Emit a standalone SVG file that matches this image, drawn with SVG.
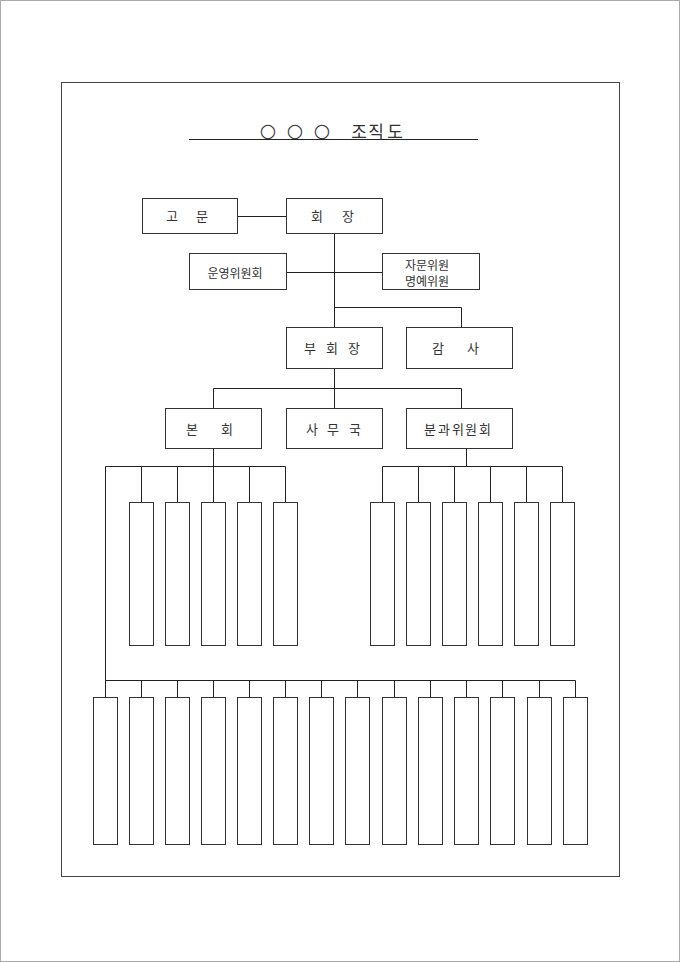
<svg xmlns="http://www.w3.org/2000/svg" width="680" height="962" viewBox="0 0 680 962">
<style>
.frame{fill:none;stroke:#444;stroke-width:1}
.box{fill:#fff;stroke:#333;stroke-width:1}
.cn{fill:none;stroke:#222;stroke-width:1}
.lbl{font-family:"Noto Sans CJK KR","Noto Sans",sans-serif;font-size:13px;fill:#333;text-anchor:middle;dominant-baseline:central}
.ttl{font-family:"Noto Sans CJK KR","Noto Sans",sans-serif;font-size:17px;fill:#333;text-anchor:middle;dominant-baseline:central}
.circ{font-family:"DejaVu Sans",sans-serif;font-size:19px}
</style>
<rect x="0" y="0" width="680" height="962" fill="#fff"/>
<rect x="0.5" y="0.5" width="679" height="961" fill="none" stroke="#aaa"/>
<rect class="frame" x="61.5" y="82.5" width="558" height="794"/>
<g id="title">
<text class="ttl" y="130"><tspan class="circ" x="268">○</tspan><tspan class="circ" x="295">○</tspan><tspan class="circ" x="322">○</tspan><tspan x="359">조</tspan><tspan x="376">직</tspan><tspan x="395">도</tspan></text>
<line class="cn" x1="189" y1="139.5" x2="478" y2="139.5"/>
</g>
<g id="connectors">
<path class="cn" d="M237,216.5H286"/>
<path class="cn" d="M334.5,233V327"/>
<path class="cn" d="M286,272.5H382"/>
<path class="cn" d="M334.5,307.5H461.5V327"/>
<path class="cn" d="M334.5,368V408"/>
<path class="cn" d="M213.5,388.5H461.5V408M213.5,388.5V408"/>
<path class="cn" d="M213.5,448V466.5"/>
<path class="cn" d="M105.5,466.5H285.5M141.5,466.5V502M177.5,466.5V502M213.5,466.5V502M249.5,466.5V502M285.5,466.5V502"/>
<path class="cn" d="M466.5,448V466.5"/>
<path class="cn" d="M382.5,466.5H562.5M382.5,466.5V502M418.5,466.5V502M454.5,466.5V502M490.5,466.5V502M526.5,466.5V502M562.5,466.5V502"/>
<path class="cn" d="M105.5,466.5V697"/>
<path class="cn" d="M105.5,680.5H575.5M141.5,680.5V697M177.5,680.5V697M213.5,680.5V697M249.5,680.5V697M285.5,680.5V697M321.5,680.5V697M357.5,680.5V697M394.5,680.5V697M430.5,680.5V697M466.5,680.5V697M502.5,680.5V697M539.5,680.5V697M575.5,680.5V697"/>
</g>
<g id="n-gomun"><rect class="box" x="142.5" y="198.5" width="95" height="35"/><text class="lbl" x="172 187 202" y="215.5">고 문</text></g>
<g id="n-hoejang"><rect class="box" x="286.5" y="198.5" width="96" height="35"/><text class="lbl" x="317 332 348" y="215.5">회 장</text></g>
<g id="n-unyeong"><rect class="box" x="189.5" y="253.5" width="97" height="36"/><text class="lbl" x="235" y="272" style="font-size:12px">운영위원회</text></g>
<g id="n-jamun"><rect class="box" x="382.5" y="253.5" width="97" height="36"/><text class="lbl" x="427" y="264" style="font-size:12px">자문위원</text><text class="lbl" x="427" y="280" style="font-size:12px">명예위원</text></g>
<g id="n-buhoejang"><rect class="box" x="286.5" y="327.5" width="96" height="41"/><text class="lbl" x="310 321 332 343 354" y="347">부 회 장</text></g>
<g id="n-gamsa"><rect class="box" x="406.5" y="327.5" width="106" height="41"/><text class="lbl" x="438 455 473" y="347">감 사</text></g>
<g id="n-bonhoe"><rect class="box" x="165.5" y="408.5" width="96" height="40"/><text class="lbl" x="192 210 227" y="428">본 회</text></g>
<g id="n-samuguk"><rect class="box" x="286.5" y="408.5" width="96" height="40"/><text class="lbl" x="312 322 333 344 355" y="428">사 무 국</text></g>
<g id="n-bungwa"><rect class="box" x="406.5" y="408.5" width="106" height="40"/><text class="lbl" x="430 444 458 471 485" y="428">분과위원회</text></g>
<g id="n-top-left">
<rect class="box" x="129.5" y="502.5" width="24" height="143"/>
<rect class="box" x="165.5" y="502.5" width="24" height="143"/>
<rect class="box" x="201.5" y="502.5" width="24" height="143"/>
<rect class="box" x="237.5" y="502.5" width="24" height="143"/>
<rect class="box" x="273.5" y="502.5" width="24" height="143"/>
</g>
<g id="n-top-right">
<rect class="box" x="370.5" y="502.5" width="24" height="143"/>
<rect class="box" x="406.5" y="502.5" width="24" height="143"/>
<rect class="box" x="442.5" y="502.5" width="24" height="143"/>
<rect class="box" x="478.5" y="502.5" width="24" height="143"/>
<rect class="box" x="514.5" y="502.5" width="24" height="143"/>
<rect class="box" x="550.5" y="502.5" width="24" height="143"/>
</g>
<g id="n-bottom">
<rect class="box" x="93.5" y="697.5" width="24" height="147"/>
<rect class="box" x="129.5" y="697.5" width="24" height="147"/>
<rect class="box" x="165.5" y="697.5" width="24" height="147"/>
<rect class="box" x="201.5" y="697.5" width="24" height="147"/>
<rect class="box" x="237.5" y="697.5" width="24" height="147"/>
<rect class="box" x="273.5" y="697.5" width="24" height="147"/>
<rect class="box" x="309.5" y="697.5" width="24" height="147"/>
<rect class="box" x="345.5" y="697.5" width="24" height="147"/>
<rect class="box" x="382.5" y="697.5" width="24" height="147"/>
<rect class="box" x="418.5" y="697.5" width="24" height="147"/>
<rect class="box" x="454.5" y="697.5" width="24" height="147"/>
<rect class="box" x="490.5" y="697.5" width="24" height="147"/>
<rect class="box" x="527.5" y="697.5" width="24" height="147"/>
<rect class="box" x="563.5" y="697.5" width="24" height="147"/>
</g>
</svg>
